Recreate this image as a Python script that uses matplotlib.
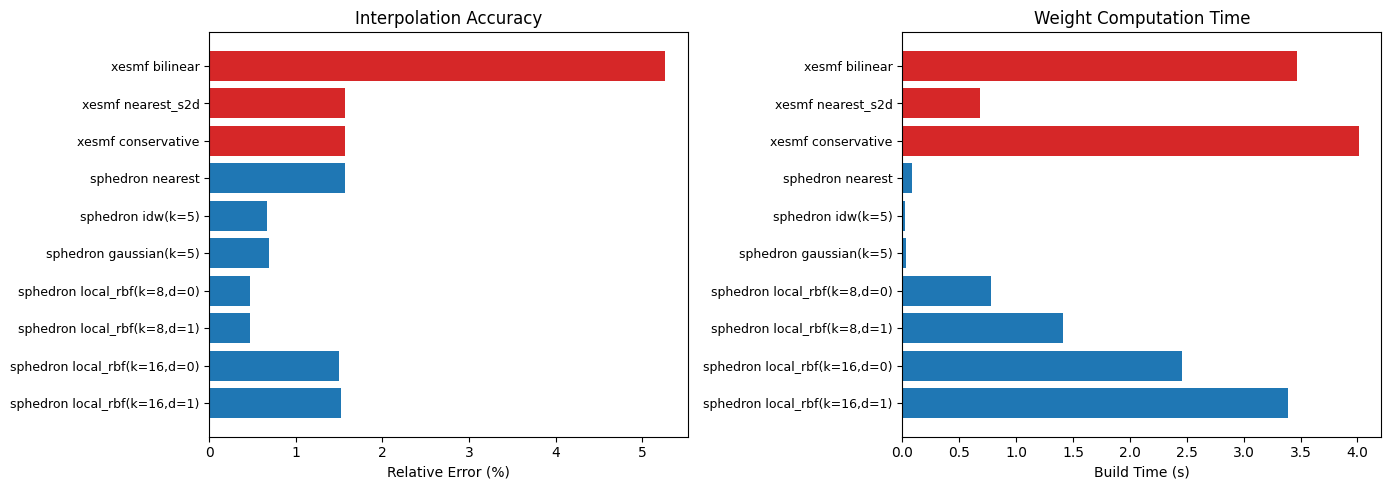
import matplotlib
matplotlib.use("Agg")
import matplotlib.pyplot as plt

methods = [
    "xesmf bilinear",
    "xesmf nearest_s2d",
    "xesmf conservative",
    "sphedron nearest",
    "sphedron idw(k=5)",
    "sphedron gaussian(k=5)",
    "sphedron local_rbf(k=8,d=0)",
    "sphedron local_rbf(k=8,d=1)",
    "sphedron local_rbf(k=16,d=0)",
    "sphedron local_rbf(k=16,d=1)",
]
rel_error = [5.27, 1.565, 1.565, 1.565, 0.672, 0.695, 0.475, 0.475, 1.495, 1.518]
build_time = [3.47, 0.682, 4.01, 0.082, 0.021, 0.029, 0.779, 1.415, 2.456, 3.391]

colors = ["#d62728" if m.startswith("xesmf") else "#1f77b4" for m in methods]

fig = plt.figure(figsize=(13.89, 4.9), dpi=100)
bottom, top = 0.1088, 0.9341
ax1 = fig.add_axes([0.1507, bottom, 0.4955 - 0.1507, top - bottom])
ax2 = fig.add_axes([0.6496, bottom, 0.9945 - 0.6496, top - bottom])
y = list(range(len(methods)))

for ax, vals, xlabel, title in [
    (ax1, rel_error, "Relative Error (%)", "Interpolation Accuracy"),
    (ax2, build_time, "Build Time (s)", "Weight Computation Time"),
]:
    ax.barh(y, vals, color=colors)
    ax.set_yticks(y)
    ax.set_yticklabels(methods, fontsize=9)
    ax.invert_yaxis()
    ax.set_xlabel(xlabel)
    ax.set_title(title)

fig.savefig("out.png", dpi=100)
